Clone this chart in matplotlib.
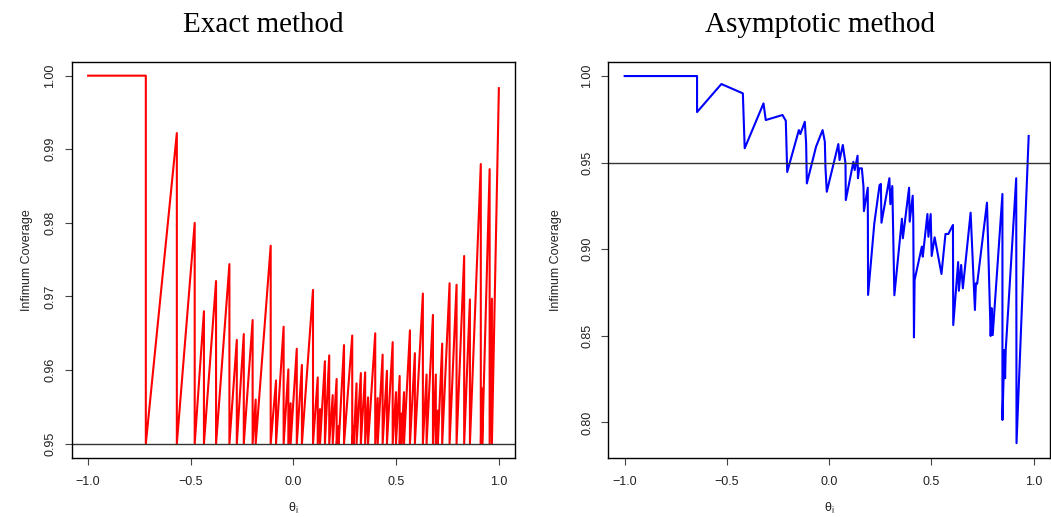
"""
Infimum coverage of the exact vs asymptotic interval, plotted over theta_i.
"""

import numpy as np
import matplotlib
matplotlib.use("Agg")
import matplotlib.pyplot as plt

# --- Exact method: flat start, then sawtooth peaks that drop back to the floor ---
EXACT_FLAT_THETA = [-1.0, -0.719]
EXACT_FLAT_COV   = [1.0, 1.0]
EXACT_FLOOR      = 0.95
EXACT_PEAK_THETA = [-0.568, -0.481, -0.436, -0.377, -0.312, -0.276, -0.242, -0.199,
                    -0.184, -0.111, -0.085, -0.048, -0.025, -0.014, 0.016, 0.041,
                    0.095, 0.118, 0.129, 0.153, 0.174, 0.191, 0.210, 0.220, 0.246,
                    0.286, 0.293, 0.307, 0.328, 0.349, 0.363, 0.398, 0.410, 0.434,
                    0.455, 0.483, 0.499, 0.517, 0.525, 0.538, 0.567, 0.591, 0.630,
                    0.648, 0.679, 0.693, 0.703, 0.724, 0.760, 0.794, 0.831, 0.859,
                    0.912, 0.919, 0.955, 0.966, 1.000]
EXACT_PEAK_COV   = [0.9922, 0.9800, 0.9680, 0.9721, 0.9744, 0.9641, 0.9649, 0.9668,
                    0.9560, 0.9769, 0.9586, 0.9659, 0.9601, 0.9555, 0.9629, 0.9607,
                    0.9709, 0.9590, 0.9547, 0.9612, 0.9620, 0.9566, 0.9588, 0.9524,
                    0.9634, 0.9647, 0.9523, 0.9582, 0.9596, 0.9597, 0.9563, 0.9650,
                    0.9562, 0.9621, 0.9599, 0.9638, 0.9570, 0.9592, 0.9541, 0.9570,
                    0.9654, 0.9623, 0.9704, 0.9594, 0.9675, 0.9594, 0.9545, 0.9636,
                    0.9718, 0.9716, 0.9755, 0.9696, 0.9880, 0.9575, 0.9873, 0.9697,
                    0.9983]

# --- Asymptotic method: one continuous line ---
ASYM_THETA = [-1.0, -0.646, -0.646, -0.527, -0.422, -0.413, -0.321, -0.310, -0.228,
              -0.212, -0.205, -0.148, -0.141, -0.119, -0.1125, -0.109, -0.064,
              -0.032, -0.021, -0.018, -0.0115, 0.045, 0.051, 0.067, 0.080, 0.0815,
              0.1186, 0.125, 0.139, 0.141, 0.147, 0.160, 0.168, 0.170, 0.189,
              0.1905, 0.221, 0.2466, 0.253, 0.256, 0.2947, 0.2995, 0.309, 0.319,
              0.356, 0.3606, 0.391, 0.394, 0.4087, 0.4115, 0.4149, 0.418, 0.4534,
              0.458, 0.4807, 0.4856, 0.4966, 0.5015, 0.516, 0.5495, 0.569, 0.583,
              0.6056, 0.607, 0.631, 0.6346, 0.6457, 0.654, 0.692, 0.713, 0.718,
              0.724, 0.772, 0.790, 0.795, 0.800, 0.8476, 0.8476, 0.857, 0.8606,
              0.8637, 0.915, 0.9165, 0.976]
ASYM_COV   = [1.0, 1.0, 0.9792, 0.9954, 0.9900, 0.9583, 0.9842, 0.9746, 0.9775,
              0.9742, 0.9446, 0.9688, 0.9665, 0.9736, 0.9611, 0.9380, 0.9592,
              0.9688, 0.9621, 0.9473, 0.9332, 0.9607, 0.9515, 0.9602, 0.9496,
              0.9284, 0.9505, 0.9457, 0.9540, 0.9410, 0.9467, 0.9467, 0.9361,
              0.9220, 0.9355, 0.8736, 0.9150, 0.9370, 0.9377, 0.9153, 0.9410,
              0.9260, 0.9365, 0.8734, 0.9176, 0.9063, 0.9355, 0.9159, 0.9309,
              0.9178, 0.8491, 0.8822, 0.9015, 0.8957, 0.9203, 0.9072, 0.9203,
              0.8961, 0.9069, 0.8857, 0.9088, 0.9088, 0.9140, 0.8562, 0.8926,
              0.8760, 0.8909, 0.8774, 0.9211, 0.8649, 0.8803, 0.8800, 0.9269,
              0.8499, 0.8660, 0.8504, 0.9319, 0.8014, 0.8418, 0.8255, 0.8418,
              0.9410, 0.7880, 0.9654]

NOMINAL = 0.95
X_TICKS = [-1.0, -0.5, 0.0, 0.5, 1.0]
EXACT_Y_TICKS = [0.95, 0.96, 0.97, 0.98, 0.99, 1.00]
ASYM_Y_TICKS  = [0.80, 0.85, 0.90, 0.95, 1.00]

plt.rcParams["font.family"] = ["Liberation Sans", "DejaVu Sans"]
plt.rcParams["mathtext.fontset"] = "dejavusans"
SERIF = ["Liberation Serif", "DejaVu Serif"]


def sawtooth(flat_x, flat_y, floor, peak_x, peak_y):
    """Rise from the floor to each peak, then drop straight back down."""
    xs = list(flat_x) + [flat_x[-1]]
    ys = list(flat_y) + [floor]
    for i, (px, py) in enumerate(zip(peak_x, peak_y)):
        xs.append(px)
        ys.append(py)
        if i < len(peak_x) - 1:
            xs.append(px)
            ys.append(floor)
    return np.array(xs), np.array(ys)


def style_axes(ax, yticks, ylim, ylab_x):
    ax.set_xlim(-1.08, 1.08)
    ax.set_ylim(*ylim)
    ax.set_xticks(X_TICKS)
    ax.set_xticklabels([f"{t:.1f}".replace("-", "\u2212") for t in X_TICKS])
    ax.set_yticks(yticks)
    ax.set_yticklabels([f"{t:.2f}" for t in yticks], rotation=90, va="center")
    ax.tick_params(labelsize=9, length=5, width=0.8, color="#444444", labelcolor="#222222")
    ax.tick_params(axis="x", pad=8.5)
    ax.tick_params(axis="y", pad=6)
    ax.set_xlabel(r"$\mathregular{\theta_i}$", fontsize=9, color="#222222")
    ax.set_ylabel("Infimum Coverage", fontsize=9, color="#222222")
    ax.xaxis.set_label_coords(0.5, -0.11)
    ax.yaxis.set_label_coords(ylab_x, 0.5)
    for sp in ax.spines.values():
        sp.set_linewidth(1.0)


fig = plt.figure(figsize=(10.51, 5.17), dpi=100)
ax1 = fig.add_axes([0.0682, 0.1147, 0.4221, 0.7660])
ax2 = fig.add_axes([0.5788, 0.1147, 0.4202, 0.7660])

ex_x, ex_y = sawtooth(EXACT_FLAT_THETA, EXACT_FLAT_COV, EXACT_FLOOR,
                      EXACT_PEAK_THETA, EXACT_PEAK_COV)
ax1.plot(ex_x, ex_y, color="red", lw=1.5)
ax1.axhline(NOMINAL, color="#333333", lw=1.0)
style_axes(ax1, EXACT_Y_TICKS, (0.9481, 1.0019), -0.087)

ax2.plot(ASYM_THETA, ASYM_COV, color="blue", lw=1.5)
ax2.axhline(NOMINAL, color="#333333", lw=1.0)
style_axes(ax2, ASYM_Y_TICKS, (0.7796, 1.0083), -0.105)

fig.text(0.2502, 0.9387, "Exact method", fontsize=21, family=SERIF,
         ha="center", va="baseline")
fig.text(0.7802, 0.9387, "Asymptotic method", fontsize=21, family=SERIF,
         ha="center", va="baseline")

fig.savefig("out.png", dpi=100)
plt.close(fig)
